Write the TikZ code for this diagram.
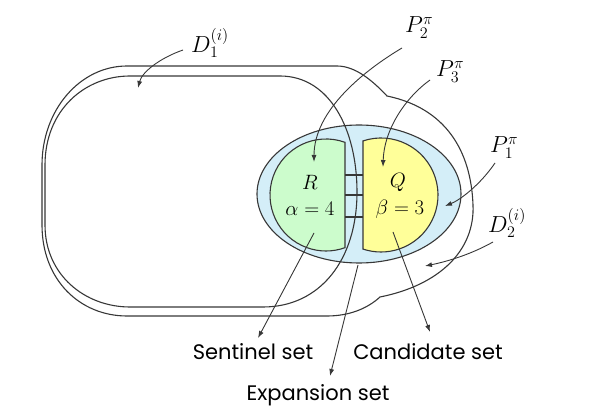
\documentclass[tikz,border=0pt]{standalone}
\usepackage{graphicx}
\usepackage{fontspec}
\newfontfamily\setfont{Poppins}
\usetikzlibrary{arrows.meta}
\definecolor{linegray}{RGB}{55,55,55}
\definecolor{expblue}{RGB}{212,238,248}
\definecolor{sentgreen}{RGB}{204,252,204}
\definecolor{candyellow}{RGB}{255,255,153}
\newcommand{\lblmath}[1]{\scalebox{1.12}{$#1$}}
\tikzset{
  outline/.style={draw=linegray, line width=1.1pt},
  pointer/.style={draw=linegray, line width=0.9pt, -{Latex[length=7pt,width=5pt]}},
  inlbl/.style={inner sep=0pt, font=\fontsize{20.74}{23}\selectfont},
  mathlbl/.style={inner sep=0pt, anchor=base west, font=\fontsize{20.74}{24}\selectfont},
  setlbl/.style={inner sep=0pt, anchor=base, font=\setfont\fontsize{21}{24}\selectfont},
}
\begin{document}
\begin{tikzpicture}[x=1pt,y=1pt]
\useasboundingbox (0,0) rectangle (589,415);
\filldraw[outline, fill=expblue] (359,221) ellipse[x radius=102, y radius=69];
\filldraw[outline, fill=sentgreen] (326,220) ++(70.17:56) arc[start angle=70.17, end angle=289.83, radius=56] -- cycle;
\filldraw[outline, fill=candyellow] (381,220) ++(108.4:57) arc[start angle=108.4, end angle=-108.4, radius=57] -- cycle;
\foreach \y in {198,220,240}
  \draw[outline] (345,\y) -- (363,\y);
\draw[outline] (130,339) -- (280,339) .. controls (330,339) and (357,285) .. (357,223)
  .. controls (357,155) and (320,108) .. (263,108) -- (130,108)
  .. controls (85,108) and (45,140) .. (45,190) -- (45,250)
  .. controls (45,305) and (85,339) .. (130,339) -- cycle;
\draw[outline] (127,349) .. controls (80,349) and (42,305) .. (42,250) -- (42,190)
  .. controls (42,135) and (80,99) .. (127,99) -- (327,99)
  .. controls (350,99) and (368,107) .. (380,118)
  .. controls (440,130) and (475,165) .. (473,210)
  .. controls (471,265) and (445,307) .. (387,319)
  .. controls (372,335) and (355,349) .. (337,349) -- cycle;
\node[inlbl] (nameR) at (310,233) {$R$};
\node[inlbl] (alphaR) at (310,206) {$\alpha=4$};
\node[inlbl] (nameQ) at (398,233) {$Q$};
\node[inlbl] (betaQ) at (400,206) {$\beta=3$};
\node[mathlbl] (lblDone) at (191,362) {\lblmath{D_1^{(i)}}};
\node[mathlbl] (lblPtwo) at (405,382) {\lblmath{P_2^{\pi}}};
\node[mathlbl] (lblPthree) at (436,338) {\lblmath{P_3^{\pi}}};
\node[mathlbl] (lblPone) at (490,262) {\lblmath{P_1^{\pi}}};
\node[mathlbl] (lblDtwo) at (488,182) {\lblmath{D_2^{(i)}}};
\node[setlbl] (lblSent) at (253,55) {Sentinel set};
\node[setlbl] (lblCand) at (428,55) {Candidate set};
\node[setlbl] (lblExp) at (318,14) {Expansion set};
\coordinate (srcSent) at (314,182);
\coordinate (srcCand) at (393,183);
\coordinate (srcExp) at (358,150);
\draw[pointer] ([shift={(-8,3)}]lblDone.base west) .. controls (160,357) and (142,343) .. (138,327);
\draw[pointer] ([shift={(-3,-15)}]lblPtwo.base west) .. controls (365,345) and (314,305) .. (314,253);
\draw[pointer] ([shift={(-6,-3)}]lblPthree.base west) .. controls (405,317) and (384,285) .. (383,248);
\draw[pointer] ([shift={(5,-10)}]lblPone.base west) .. controls (480,230) and (460,215) .. (445,209);
\draw[pointer] ([shift={(5,-9)}]lblDtwo.base west) .. controls (470,160) and (445,153) .. (425,149);
\draw[pointer] (srcSent) -- ([shift={(5,22)}]lblSent.base);
\draw[pointer] (srcCand) -- ([shift={(2,28)}]lblCand.base);
\draw[pointer] (srcExp) -- ([shift={(12,25)}]lblExp.base);
\end{tikzpicture}
\end{document}
